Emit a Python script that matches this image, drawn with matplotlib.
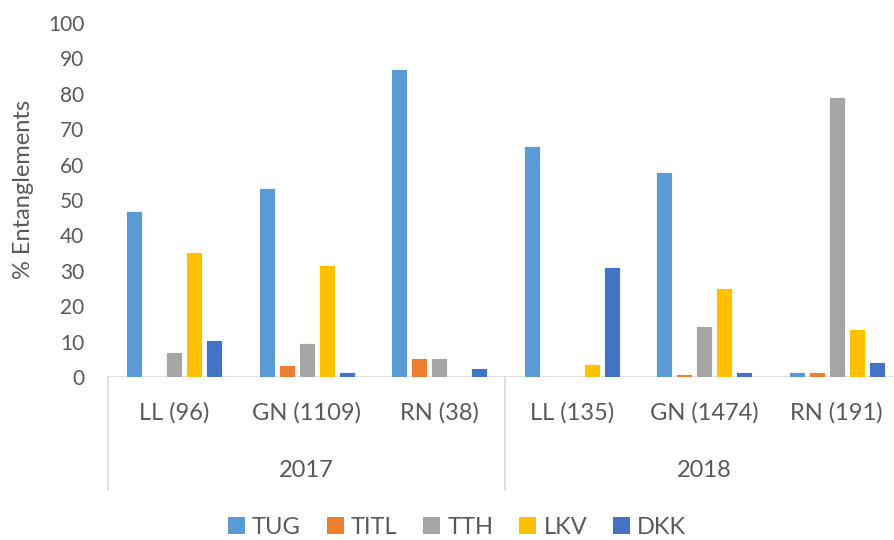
import matplotlib
matplotlib.use("Agg")
import matplotlib.pyplot as plt
import numpy as np
from matplotlib.patches import Patch

plt.rcParams['font.family'] = ['Lato', 'DejaVu Sans']

categories = ["LL (96)", "GN (1109)", "RN (38)", "LL (135)", "GN (1474)", "RN (191)"]
years = ["2017", "2018"]
series_names = ["TUG", "TITL", "TTH", "LKV", "DKK"]
TUG = [47.0, 53.5, 87.0, 65.2, 58.0, 1.4]
TITL = [0.0, 3.5, 5.3, 0.0, 0.8, 1.5]
TTH = [7.2, 9.7, 5.3, 0.0, 14.3, 79.0]
LKV = [35.3, 31.7, 0.0, 3.6, 25.2, 13.6]
DKK = [10.4, 1.3, 2.5, 31.0, 1.3, 4.1]
colors = ["#5B9BD5", "#ED7D31", "#A5A5A5", "#FFC000", "#4472C4"]

data = [TUG, TITL, TTH, LKV, DKK]
txtc = '#595959'

fig = plt.figure(figsize=(8.94, 5.4), dpi=100)
ax = fig.add_axes([108/894, 1-377/540, 795/894, 354/540])

x = np.arange(len(categories))
step = 0.151
width = 0.12
for i, (vals, c) in enumerate(zip(data, colors)):
    ax.bar(x + (i - 2) * step, vals, width=width, color=c, edgecolor='white', linewidth=0.6)

ax.set_xlim(-0.5, len(categories) - 0.5)
ax.set_ylim(0, 100)
ax.set_yticks(np.arange(0, 101, 10))
ax.tick_params(axis='y', length=0, labelsize=15, labelcolor=txtc, pad=17)
ax.set_xticks(x)
ax.set_xticklabels(categories)
ax.tick_params(axis='x', length=0, labelsize=17, labelcolor=txtc, pad=18)
for s in ax.spines.values():
    s.set_visible(False)
ax.axhline(0, color='#D9D9D9', linewidth=1.2, zorder=0.5)

fig.text(24/894, 1-189/540, "% Entanglements", rotation=90, ha='center', va='center',
         fontsize=17, color=txtc)

tr = ax.get_xaxis_transform()
ybot = -(490 - 377) / 354
for xd in [-0.5, 2.5, 5.5]:
    ax.plot([xd, xd], [0, ybot], transform=tr, color='#D9D9D9', linewidth=1.2, clip_on=False)

for j, yr in enumerate(years):
    ax.text(1 + 3 * j, -(470 - 377) / 354, yr, transform=tr, ha='center', va='center',
            fontsize=17, color=txtc)

handles = [Patch(facecolor=c, edgecolor='none') for c in colors]
fig.legend(handles, series_names, loc='center', bbox_to_anchor=(457/894, 1-527/540), ncol=5,
           frameon=False, fontsize=17, handlelength=0.72, handleheight=0.72,
           handletextpad=0.3, columnspacing=1.1, labelcolor=txtc,
           borderpad=0, borderaxespad=0)

fig.savefig("out.png", dpi=100)
